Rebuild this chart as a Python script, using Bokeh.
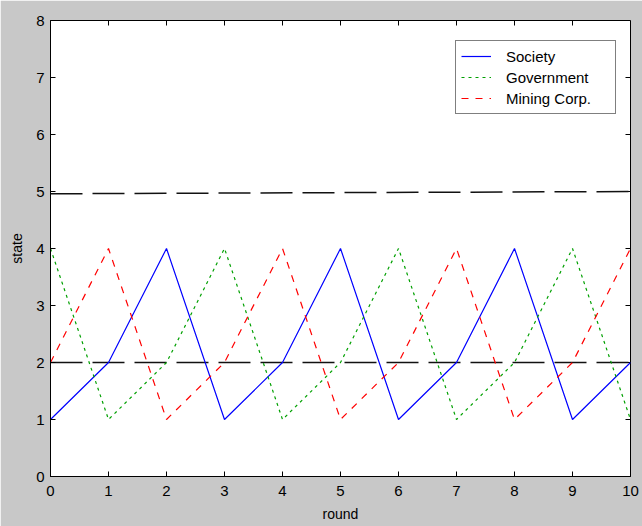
import math
from bokeh.plotting import figure
from bokeh.models import Range1d, Legend, LegendItem, FixedTicker
from bokeh.embed import file_html
from bokeh.resources import INLINE

rounds = [0, 1, 2, 3, 4, 5, 6, 7, 8, 9, 10]
society = [1, 2, 4, 1, 2, 4, 1, 2, 4, 1, 2]
government = [4, 1, 2, 4, 1, 2, 4, 1, 2, 4, 1]
mining = [2, 4, 1, 2, 4, 1, 2, 4, 1, 2, 4]
ref_x = [0, 10]
ref_upper = [4.96, 5.0]
ref_lower = [2.0, 2.0]
x_ticks = [0, 1, 2, 3, 4, 5, 6, 7, 8, 9, 10]
y_ticks = [0, 1, 2, 3, 4, 5, 6, 7, 8]
X_MIN, X_MAX = 0, 10
Y_MIN, Y_MAX = 0, 8

FONT = "Liberation Sans"
BG = "#c8c8c8"

p = figure(width=642, height=526, output_backend="svg", toolbar_location=None,
           x_range=Range1d(X_MIN, X_MAX), y_range=Range1d(Y_MIN, Y_MAX),
           min_border_left=50, min_border_right=12, min_border_top=20, min_border_bottom=50)
p.background_fill_color = "white"
p.border_fill_color = BG
p.outline_line_color = "black"
p.outline_line_width = 1
p.grid.visible = False

for ax in [p.xaxis[0], p.yaxis[0]]:
    ax.major_tick_in = 5
    ax.major_tick_out = 0
    ax.minor_tick_line_color = None
    ax.axis_line_color = "black"
    ax.major_tick_line_color = "black"
    ax.major_label_text_font = FONT
    ax.major_label_text_font_size = "15px"
    ax.major_label_text_color = "black"
    ax.axis_label_text_font = FONT
    ax.axis_label_text_font_size = "14px"
    ax.axis_label_text_font_style = "normal"
    ax.axis_label_text_color = "black"

p.xaxis[0].ticker = FixedTicker(ticks=x_ticks)
p.yaxis[0].ticker = FixedTicker(ticks=y_ticks)
p.xaxis[0].axis_label = "round"
p.yaxis[0].axis_label = "state"
p.xaxis[0].major_label_standoff = 9
p.yaxis[0].major_label_standoff = 6
p.xaxis[0].axis_label_standoff = 7
p.yaxis[0].axis_label_standoff = 8

# tick marks on top and right edges (box axes)
p.ray(x=x_ticks, y=[Y_MAX] * len(x_ticks), length=5, length_units="screen",
      angle=-math.pi / 2, line_color="black", line_width=1)
p.ray(x=[X_MAX] * len(y_ticks), y=y_ticks, length=5, length_units="screen",
      angle=math.pi, line_color="black", line_width=1)

p.line(ref_x, ref_upper, line_color="#111111", line_width=1.5, line_dash="32 10")
p.line(ref_x, ref_lower, line_color="#111111", line_width=1.5, line_dash="32 10")

r1 = p.line(rounds, society, line_color="#0000ff", line_width=1.2)
r2 = p.line(rounds, government, line_color="#00a000", line_width=1.2, line_dash="3 4")
r3 = p.line(rounds, mining, line_color="#ff0000", line_width=1.2, line_dash="7 7")

legend = Legend(items=[LegendItem(label="Society", renderers=[r1]),
                       LegendItem(label="Government", renderers=[r2]),
                       LegendItem(label="Mining Corp.", renderers=[r3])],
                location=(405, 362))
legend.label_text_font = FONT
legend.label_text_font_size = "15px"
legend.label_text_color = "black"
legend.glyph_width = 30
legend.glyph_height = 20
legend.label_height = 20
legend.label_width = 104
legend.spacing = 1
legend.padding = 5
legend.margin = 0
legend.border_line_color = "black"
legend.border_line_width = 1
legend.background_fill_color = "white"
legend.background_fill_alpha = 1
legend.label_standoff = 15
p.add_layout(legend, "center")

open("out.html", "w").write(file_html(p, INLINE))
